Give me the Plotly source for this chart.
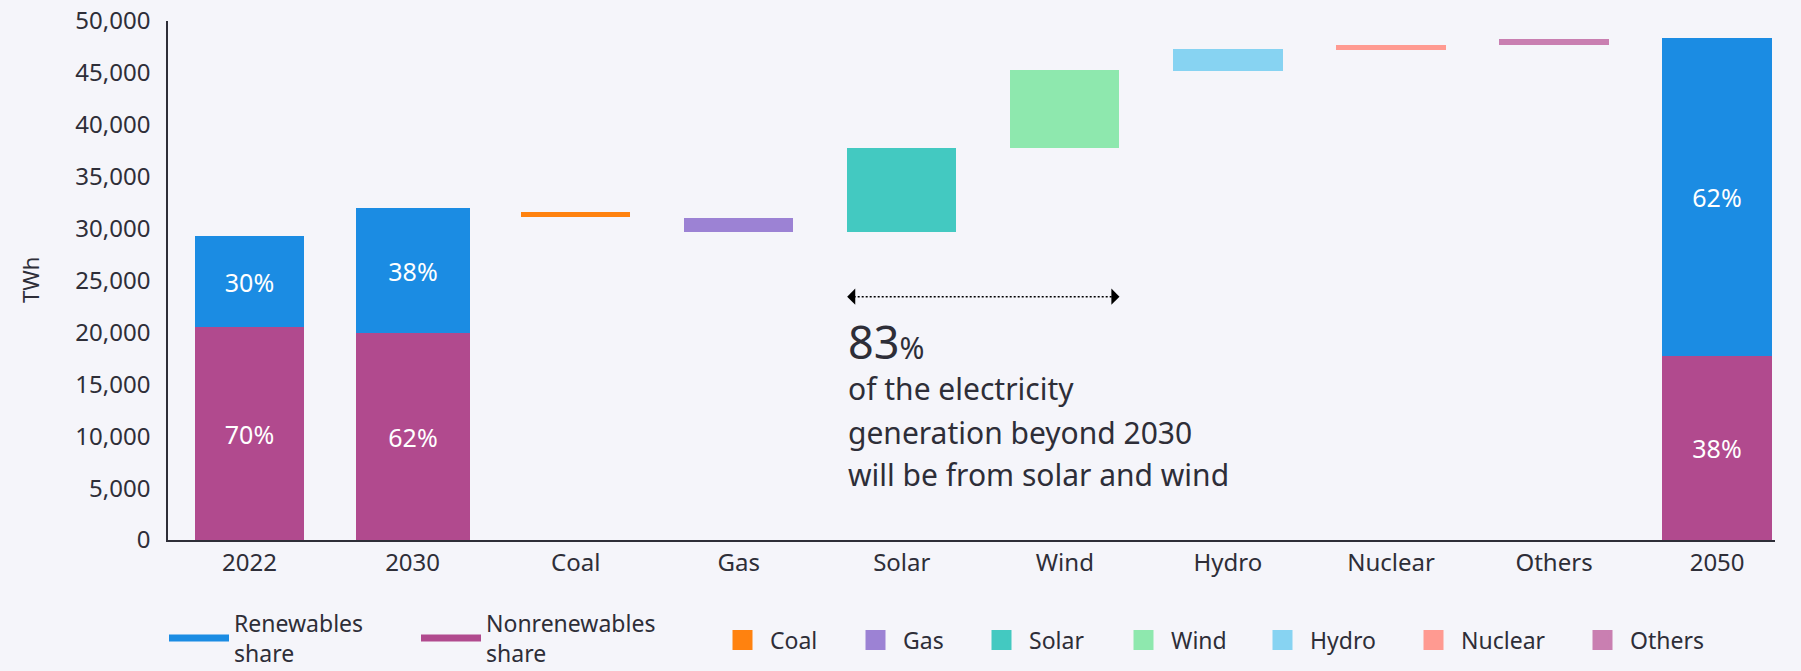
import plotly.graph_objects as go

# ---------------- data ----------------
categories = ["2022", "2030", "Coal", "Gas", "Solar", "Wind", "Hydro", "Nuclear", "Others", "2050"]

total_years = ["2022", "2030", "2050"]
nonrenewable_twh = [20500, 19900, 17750]
renewable_twh = [8800, 12100, 30640]
nonrenewable_share = ["70%", "62%", "38%"]
renewable_share = ["30%", "38%", "62%"]

sources = ["Coal", "Gas", "Solar", "Wind", "Hydro", "Nuclear", "Others"]
source_bottom = [31070, 29690, 29690, 37790, 45210, 47230, 47720]
source_top = [31620, 31040, 37790, 45310, 47330, 47720, 48290]

y_ticks = [0, 5000, 10000, 15000, 20000, 25000, 30000, 35000, 40000, 45000, 50000]

callout_big = "83"
callout_lines = ["of the electricity", "generation beyond 2030", "will be from solar and wind"]

# ---------------- style ----------------
W, H = 1801, 671
BG = "#f5f5fa"
TXT = "#2e2e38"
FONT = "Noto Sans"
BLUE = "#1b8ce3"
PINK = "#b14a8e"
source_colors = ["#ff820f", "#9c82d4", "#43c9c1", "#8ee8ae", "#87d3f2", "#ff9a91", "#c97fb1"]
BAR_W = 0.67
TOTAL_BAR_W = [0.67, 0.70, 0.67]

fig = go.Figure()

fig.add_trace(go.Bar(
    x=total_years, y=nonrenewable_twh, width=TOTAL_BAR_W,
    marker=dict(color=PINK, line=dict(width=0)),
    text=nonrenewable_share, textposition="inside", insidetextanchor="middle",
    textfont=dict(color="white", size=25, family=FONT), textangle=0,
    showlegend=False, hoverinfo="skip",
))
fig.add_trace(go.Bar(
    x=total_years, y=renewable_twh, base=nonrenewable_twh, width=TOTAL_BAR_W,
    marker=dict(color=BLUE, line=dict(width=0)),
    text=renewable_share, textposition="inside", insidetextanchor="middle",
    textfont=dict(color="white", size=25, family=FONT), textangle=0,
    showlegend=False, hoverinfo="skip",
))

for s, b, t, c in zip(sources, source_bottom, source_top, source_colors):
    fig.add_trace(go.Bar(
        x=[s], y=[t - b], base=[b], width=BAR_W,
        marker=dict(color=c, line=dict(width=0)),
        showlegend=False, hoverinfo="skip",
    ))

# legend entries
fig.add_trace(go.Scatter(x=[None], y=[None], mode="lines", line=dict(color=BLUE, width=7),
                         name="Renewables<br>share", legend="legend"))
fig.add_trace(go.Scatter(x=[None], y=[None], mode="lines", line=dict(color=PINK, width=7),
                         name="Nonrenewables<br>share", legend="legend2"))
for i, (s, c) in enumerate(zip(sources, source_colors)):
    fig.add_trace(go.Scatter(x=[None], y=[None], mode="markers",
                             marker=dict(symbol="square", size=22, color=c, line=dict(width=4, color=c)),
                             name=s, legend=f"legend{i + 3}"))

legend_font = dict(size=23, color=TXT, family=FONT)


def leg(xpx, iw, ypx):
    return dict(x=xpx / W, xref="container", xanchor="left",
                y=1 - ypx / H, yref="container", yanchor="middle",
                orientation="h", bgcolor="rgba(0,0,0,0)", borderwidth=0,
                font=legend_font, itemwidth=iw, itemclick=False, itemdoubleclick=False)


legends = {"legend": leg(164, 60, 638), "legend2": leg(416, 60, 638)}
src_x = [715, 848, 974, 1116, 1255, 1406, 1575]
for i, xp in enumerate(src_x):
    legends[f"legend{i + 3}"] = leg(xp, 45, 640)

# plot area geometry
L, R, T, B = 168, 26, 21, 131


def yval(py):
    return (H - B - py) / (H - B - T) * 50000


annotations = [
    dict(text="TWh", textangle=-90, x=(29.5 - L) / (W - L - R), y=0.5, xref="paper", yref="paper",
         showarrow=False, font=dict(size=22, color=TXT, family=FONT), xanchor="center", yanchor="middle"),
    dict(text=f"<span style='font-size:45px'>{callout_big}</span><span style='font-size:30px'>%</span>",
         x=3.655, y=yval(341), xref="x", yref="y", xanchor="left", yanchor="middle",
         showarrow=False, font=dict(size=45, color=TXT, family=FONT), align="left"),
]
for line, py in zip(callout_lines, [388, 432, 474]):
    annotations.append(dict(text=line, x=3.655, y=yval(py), xref="x", yref="y",
                            xanchor="left", yanchor="middle", showarrow=False,
                            font=dict(size=30, color=TXT, family=FONT), align="left"))

ARROW_Y = yval(296.7)
ARROW_X0, ARROW_X1 = 4 - BAR_W / 2, 5 + BAR_W / 2
annotations += [
    dict(text="", x=ARROW_X0, y=ARROW_Y, xref="x", yref="y", ax=9, ay=0, showarrow=True,
         arrowhead=1, arrowsize=1.8, arrowwidth=1.5, arrowcolor="black"),
    dict(text="", x=ARROW_X1, y=ARROW_Y, xref="x", yref="y", ax=-9, ay=0, showarrow=True,
         arrowhead=1, arrowsize=1.8, arrowwidth=1.5, arrowcolor="black"),
]
shapes = [dict(type="line", xref="x", yref="y", x0=ARROW_X0 + 0.04, x1=ARROW_X1 - 0.04,
               y0=ARROW_Y, y1=ARROW_Y, line=dict(color="black", width=1.5, dash="2px,2px"))]

fig.update_layout(
    width=W, height=H,
    margin=dict(l=L, r=R, t=T, b=B, pad=0, autoexpand=False),
    paper_bgcolor=BG, plot_bgcolor=BG,
    barmode="overlay", bargap=0,
    font=dict(family=FONT, color=TXT),
    annotations=annotations, shapes=shapes,
    xaxis=dict(type="category", categoryorder="array", categoryarray=categories,
               range=[-0.5, 9.355], showline=True, linecolor=TXT, linewidth=1.5,
               showgrid=False, zeroline=False, ticks="", ticklabelstandoff=0, automargin=False,
               tickfont=dict(size=24, color=TXT, family=FONT), fixedrange=True),
    yaxis=dict(range=[0, 50000], tickvals=y_ticks, tickformat=",", showline=True,
               linecolor=TXT, linewidth=1.5, showgrid=False, zeroline=False, ticks="",
               ticklabelstandoff=11, automargin=False, tickfont=dict(size=24, color=TXT, family=FONT),
               fixedrange=True),
    **legends,
)

fig.write_html(
    "out.html",
    config={"displayModeBar": False},
    post_script=f"document.body.style.margin='0px';document.body.style.background='{BG}';",
)
